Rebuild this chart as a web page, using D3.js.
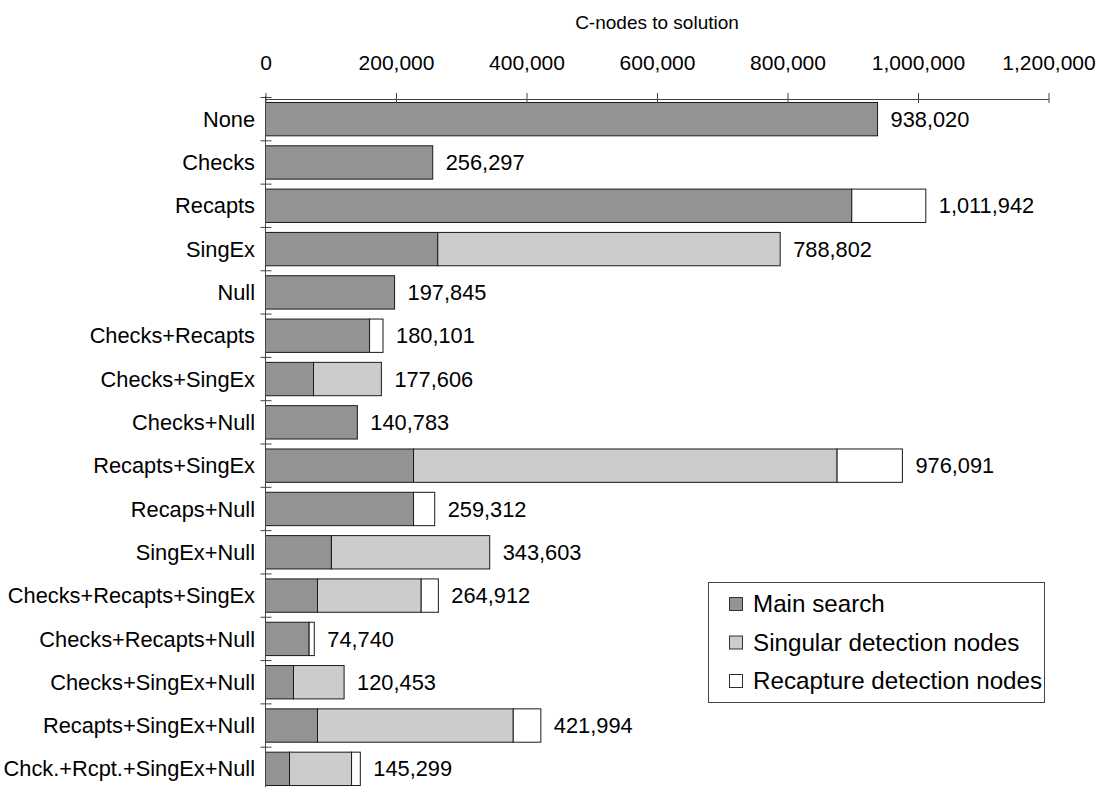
<!DOCTYPE html>
<html>
<head>
<meta charset="utf-8">
<script src="https://cdn.jsdelivr.net/npm/d3@7"></script>
<style>
  html, body { margin: 0; padding: 0; background: #fff; }
  svg text { font-family: "Liberation Sans", Arial, sans-serif; fill: #000; }
</style>
</head>
<body>
<svg id="chart" width="1109" height="787"></svg>
<script>
const categories = ["None", "Checks", "Recapts", "SingEx", "Null", "Checks+Recapts",
  "Checks+SingEx", "Checks+Null", "Recapts+SingEx", "Recaps+Null", "SingEx+Null",
  "Checks+Recapts+SingEx", "Checks+Recapts+Null", "Checks+SingEx+Null",
  "Recapts+SingEx+Null", "Chck.+Rcpt.+SingEx+Null"];
const mainSearch = [938020, 256297, 898500, 264000, 197845, 159500, 73600, 140783,
  226900, 226900, 101000, 79700, 66900, 42900, 79700, 36800];
const singularNodes = [0, 0, 0, 524802, 0, 0, 104006, 0,
  649100, 0, 242603, 158900, 0, 77553, 300000, 95100];
const recaptureNodes = [0, 0, 113442, 0, 0, 20601, 0, 0,
  100091, 32412, 0, 26312, 7840, 0, 42294, 13399];
const totals = [938020, 256297, 1011942, 788802, 197845, 180101, 177606, 140783,
  976091, 259312, 343603, 264912, 74740, 120453, 421994, 145299];
const tickValues = [0, 200000, 400000, 600000, 800000, 1000000, 1200000];
const seriesNames = ["Main search", "Singular detection nodes", "Recapture detection nodes"];
const seriesColors = ["#939393", "#cccccc", "#ffffff"];
const axisTitle = "C-nodes to solution";

const svg = d3.select("#chart");
const x = d3.scaleLinear().domain([0, 1200000]).range([265.5, 1048.5]);
const y = d3.scaleBand().domain(categories).range([97.5, 790.5]).padding(0);
const barPad = y.bandwidth() * 0.115;
const barH = y.bandwidth() * 0.77;

const rows = categories.map((c, i) => ({cat: c, main: mainSearch[i], sing: singularNodes[i], recap: recaptureNodes[i], total: totals[i]}));
const stacked = d3.stack().keys(["main", "sing", "recap"])(rows);

const g = svg.append("g");
stacked.forEach((layer, li) => {
  g.selectAll(null).data(layer.filter(d => d[1] - d[0] > 0)).enter().append("rect")
    .attr("x", d => x(d[0]))
    .attr("y", d => y(d.data.cat) + barPad)
    .attr("width", d => x(d[1]) - x(d[0]))
    .attr("height", barH)
    .attr("fill", seriesColors[li])
    .attr("stroke", "#1a1a1a")
    .attr("stroke-width", 1);
});

// top axis
const axis = d3.axisTop(x).tickValues(tickValues).tickFormat(d3.format(","))
  .tickSizeInner(6).tickSizeOuter(0).tickPadding(23.5);
const ag = svg.append("g").attr("transform", "translate(0,99)").call(axis);
ag.select(".domain").attr("stroke", "#444");
ag.selectAll(".tick line").attr("stroke", "#444").attr("y2", -6).attr("y1", 4);
ag.selectAll(".tick text").attr("font-size", 21).attr("font-family", "Liberation Sans, Arial, sans-serif").attr("fill", "#000");

// axis title
svg.append("text").attr("x", (x.range()[0] + x.range()[1]) / 2).attr("y", 29)
  .attr("text-anchor", "middle").attr("font-size", 19).text(axisTitle);

// vertical category axis
svg.append("line").attr("x1", x(0)).attr("x2", x(0)).attr("y1", 96).attr("y2", 787)
  .attr("stroke", "#444");
const bounds = categories.map(c => y(c)).concat([y.range()[1]]);
svg.selectAll(null).data(bounds).enter().append("line")
  .attr("x1", x(0) - 5).attr("x2", x(0) + 6)
  .attr("y1", d => d).attr("y2", d => d)
  .attr("stroke", "#444");

// category labels
svg.selectAll(null).data(categories).enter().append("text")
  .attr("x", 255).attr("y", d => y(d) + y.bandwidth() / 2)
  .attr("dy", "0.35em").attr("text-anchor", "end").attr("font-size", 21.8)
  .text(d => d);

// total labels
svg.selectAll(null).data(rows).enter().append("text")
  .attr("x", d => x(d.total) + 13).attr("y", d => y(d.cat) + y.bandwidth() / 2)
  .attr("dy", "0.35em").attr("font-size", 21.8)
  .text(d => d3.format(",")(d.total));

// legend
const lg = svg.append("g");
lg.append("rect").attr("x", 708.5).attr("y", 582.5).attr("width", 336).attr("height", 120)
  .attr("fill", "#fff").attr("stroke", "#444");
seriesNames.forEach((n, i) => {
  const cy = 604 + i * 38.5;
  lg.append("rect").attr("x", 729.5).attr("y", cy - 6.5).attr("width", 13).attr("height", 13)
    .attr("fill", seriesColors[i]).attr("stroke", "#333");
  lg.append("text").attr("x", 753).attr("y", cy).attr("dy", "0.35em")
    .attr("font-size", 24.2).text(n);
});
</script>
</body>
</html>
